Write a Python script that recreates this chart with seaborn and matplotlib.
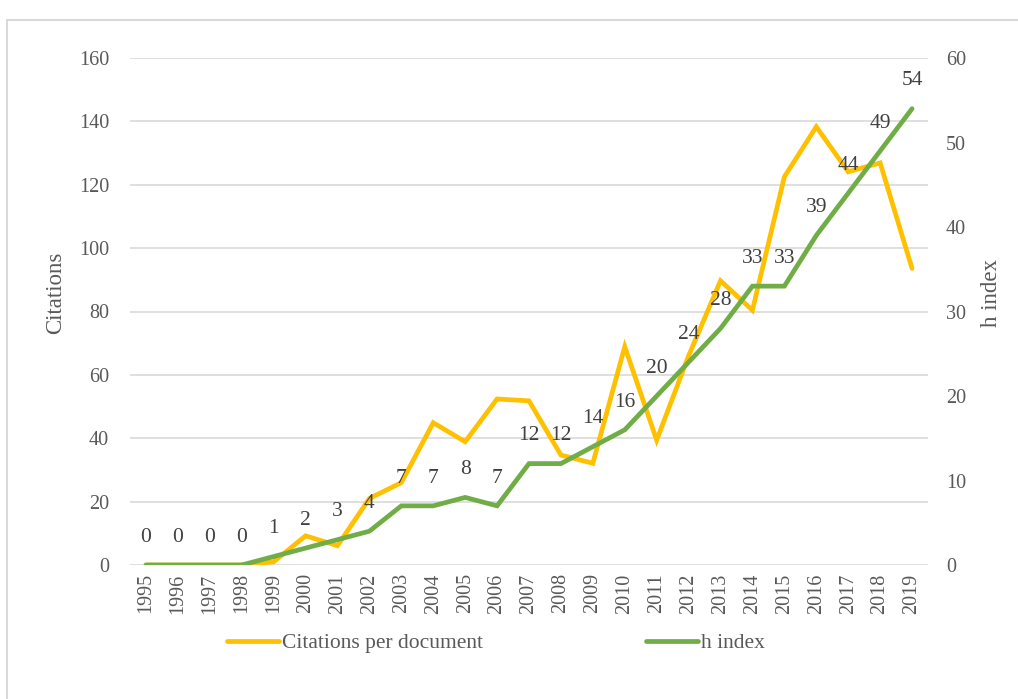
import matplotlib
matplotlib.use("Agg")
import matplotlib.pyplot as plt
import seaborn as sns
import pandas as pd
from matplotlib.patches import Rectangle
from matplotlib.lines import Line2D

years = list(range(1995, 2020))
citations = [0, 0, 0, 0, 1, 9.2, 6.1, 21, 26, 44.9, 38.9, 52.4, 51.8, 34.7, 32.1,
             68.9, 39.4, 66, 89.7, 80.4, 122.5, 138.3, 124.1, 126.9, 93.6]
h_index = [0, 0, 0, 0, 1, 2, 3, 4, 7, 7, 8, 7, 12, 12, 14, 16, 20, 24, 28, 33,
           33, 39, 44, 49, 54]

sns.set_theme(style="white")
plt.rcParams['font.family'] = ['Liberation Serif', 'DejaVu Serif']

df = pd.DataFrame({"idx": range(len(years)), "year": years,
                   "citations": citations, "h": h_index})

fig = plt.figure(figsize=(10.18, 6.99), dpi=100)
ax = fig.add_axes([130/1018, 1-565/699, (928-130)/1018, (565-58)/699])
ax2 = ax.twinx()

yellow = "#FFC000"
green = "#70AD47"
txt = "#595959"

ax.set_ylim(0, 160)
ax.set_yticks(range(0, 161, 20))
ax.grid(axis='y', color="#D9D9D9", linewidth=1.2)
ax.set_axisbelow(True)

sns.lineplot(data=df, x="idx", y="citations", ax=ax, color=yellow, linewidth=3.4,
             solid_capstyle='round', solid_joinstyle='miter', legend=False)
sns.lineplot(data=df, x="idx", y="h", ax=ax2, color=green, linewidth=3.4,
             solid_capstyle='round', solid_joinstyle='miter', legend=False)

ax2.set_ylim(0, 60)
ax2.set_yticks(range(0, 61, 10))
ax.set_xlim(-0.5, len(years) - 0.5)
ax.set_xticks(range(len(years)))
ax.set_xticklabels([str(y) for y in years], rotation=90, fontsize=14.5, color=txt)

for a in (ax, ax2):
    for s in a.spines.values():
        s.set_visible(False)
    a.tick_params(length=0, labelsize=14.5, labelcolor=txt)
ax.tick_params(axis='y', pad=15)
ax2.tick_params(axis='y', pad=13)
ax.tick_params(axis='x', pad=6)

ax.set_xlabel("")
ax.set_ylabel("Citations", fontsize=16.5, color=txt)
ax2.set_ylabel("h index", fontsize=16.5, color=txt)
ax.yaxis.set_label_coords((66-130)/798, (565-293)/507)
ax2.yaxis.set_label_coords((981-130)/798, (565-293)/507)

for i, h in enumerate(h_index):
    ax2.annotate(str(h), (i, h), xytext=(0, 20), textcoords='offset points',
                 ha='center', va='center', fontsize=15.5, color="#404040")

handles = [Line2D([0], [0], color=yellow, lw=3.4, solid_capstyle='round'),
           Line2D([0], [0], color=green, lw=3.4, solid_capstyle='round')]
fig.legend(handles, ["Citations per document", "h index"], loc='center',
           bbox_to_anchor=(496/1018, 1-643/699), ncol=2, frameon=False,
           fontsize=15.5, handlelength=2.4, columnspacing=7.6, handletextpad=0.15,
           labelcolor=txt, borderpad=0, borderaxespad=0)

fig.patches.append(Rectangle((7/1018, -0.01), 1 - 7.5/1018 + 0.02, 1 - 20/699 + 0.01,
                             transform=fig.transFigure, fill=False,
                             edgecolor="#D9D9D9", linewidth=1.5))

fig.savefig("out.png", dpi=100, facecolor="white")
